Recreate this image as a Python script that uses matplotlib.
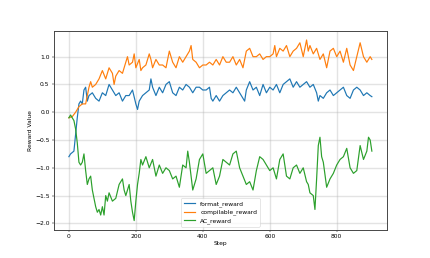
import matplotlib
matplotlib.use("Agg")
import matplotlib.pyplot as plt

# values (step, reward)
format_steps = [0, 5, 15, 20, 25, 30, 35, 40, 45, 50, 55, 60, 70, 80, 90, 100, 110, 120, 130, 140,
                150, 160, 170, 180, 190, 200, 205, 210, 220, 230, 240, 245, 250, 260, 270, 280, 290,
                300, 310, 320, 330, 340, 350, 360, 370, 380, 390, 400, 410, 420, 425, 430, 440, 450,
                460, 470, 480, 490, 500, 510, 520, 525, 530, 540, 550, 560, 570, 580, 590, 600, 610,
                620, 630, 640, 650, 660, 670, 680, 690, 700, 710, 720, 730, 740, 745, 750, 760, 770,
                780, 790, 800, 810, 820, 830, 840, 850, 860, 870, 880, 890, 900, 905]
format_vals = [-0.8, -0.75, -0.7, -0.4, -0.1, 0.15, 0.2, 0.15, 0.4, 0.45, 0.2, 0.3, 0.35, 0.25, 0.2,
               0.35, 0.3, 0.5, 0.4, 0.3, 0.35, 0.2, 0.3, 0.3, 0.4, 0.15, 0.05, 0.2, 0.3, 0.35, 0.4,
               0.6, 0.45, 0.3, 0.45, 0.35, 0.5, 0.55, 0.35, 0.3, 0.45, 0.4, 0.5, 0.45, 0.35, 0.45,
               0.45, 0.4, 0.4, 0.45, 0.25, 0.2, 0.3, 0.2, 0.3, 0.35, 0.4, 0.35, 0.45, 0.35, 0.25,
               0.2, 0.4, 0.55, 0.4, 0.45, 0.3, 0.5, 0.35, 0.45, 0.4, 0.5, 0.35, 0.5, 0.55, 0.6,
               0.45, 0.55, 0.45, 0.5, 0.55, 0.45, 0.5, 0.35, 0.2, 0.3, 0.25, 0.35, 0.4, 0.3, 0.35,
               0.4, 0.45, 0.3, 0.25, 0.4, 0.45, 0.4, 0.3, 0.35, 0.3, 0.28]

compile_steps = [0, 10, 20, 30, 40, 50, 55, 60, 65, 70, 80, 90, 100, 110, 120, 130, 135, 140, 150,
                 160, 170, 175, 180, 190, 195, 200, 210, 215, 220, 230, 240, 245, 250, 260, 270, 280,
                 290, 300, 310, 320, 330, 340, 350, 360, 365, 370, 380, 390, 400, 410, 420, 430, 440,
                 450, 460, 470, 480, 490, 500, 510, 520, 530, 540, 550, 560, 570, 580, 590, 600, 610,
                 615, 620, 630, 640, 650, 660, 670, 680, 690, 700, 710, 715, 720, 730, 740, 750, 760,
                 770, 780, 790, 800, 810, 820, 830, 840, 850, 860, 870, 880, 890, 900, 905]
compile_vals = [-0.1, -0.08, 0.0, 0.1, 0.15, 0.15, 0.3, 0.45, 0.55, 0.45, 0.5, 0.6, 0.75, 0.6, 0.8,
                0.7, 0.5, 0.65, 0.75, 0.7, 0.9, 1.0, 0.85, 0.9, 1.05, 0.8, 0.95, 0.75, 0.8, 0.85,
                1.05, 0.95, 0.8, 0.95, 0.85, 0.85, 0.8, 1.1, 0.9, 0.8, 1.0, 0.9, 1.0, 1.1, 1.2, 0.95,
                0.9, 0.8, 0.85, 0.85, 0.9, 0.85, 0.95, 0.85, 1.0, 0.9, 0.9, 1.0, 0.85, 0.95, 0.8,
                1.1, 1.15, 1.0, 1.0, 1.05, 0.95, 1.0, 1.0, 1.05, 1.2, 1.0, 1.15, 1.1, 1.2, 1.0, 1.1,
                1.15, 1.25, 1.0, 1.3, 1.1, 1.2, 1.05, 1.15, 0.95, 1.05, 0.8, 1.1, 1.15, 1.0, 1.1,
                0.9, 1.15, 0.85, 0.75, 1.0, 1.25, 1.0, 0.9, 1.0, 0.95]

ac_steps = [0, 5, 10, 15, 20, 25, 30, 35, 40, 45, 50, 55, 60, 65, 70, 75, 80, 85, 90, 95, 100, 105,
            110, 115, 120, 130, 140, 150, 160, 165, 170, 180, 185, 190, 195, 200, 205, 210, 215,
            220, 230, 240, 250, 260, 270, 280, 290, 300, 310, 320, 330, 340, 350, 355, 360, 365,
            370, 380, 390, 400, 410, 420, 430, 440, 450, 460, 470, 480, 490, 500, 510, 520, 530,
            540, 550, 560, 570, 580, 590, 600, 610, 620, 630, 640, 650, 660, 670, 680, 690, 700,
            710, 715, 720, 730, 735, 740, 745, 750, 755, 760, 770, 780, 790, 800, 810, 820, 830,
            840, 850, 860, 870, 880, 890, 895, 900, 905]
ac_vals = [-0.1, -0.05, -0.1, -0.15, -0.3, -0.55, -0.9, -0.95, -0.9, -0.75, -1.05, -1.3, -1.2,
           -1.15, -1.4, -1.55, -1.7, -1.8, -1.75, -1.85, -1.7, -1.85, -1.5, -1.6, -1.45, -1.6,
           -1.55, -1.3, -1.2, -1.4, -1.5, -1.3, -1.6, -1.8, -1.95, -1.6, -1.3, -1.1, -0.85, -0.95,
           -0.8, -1.0, -0.85, -1.15, -0.95, -1.1, -1.0, -1.05, -1.2, -1.15, -1.35, -0.95, -1.0,
           -0.7, -0.9, -1.15, -1.4, -1.2, -0.85, -0.75, -1.1, -1.05, -1.0, -1.3, -1.15, -0.85,
           -0.9, -0.95, -0.75, -0.7, -1.0, -1.15, -1.3, -1.25, -1.4, -1.05, -0.8, -0.85, -0.95,
           -1.05, -1.0, -1.2, -0.85, -0.75, -1.15, -1.2, -1.0, -0.95, -1.1, -1.0, -1.25, -1.3,
           -1.45, -1.5, -1.75, -1.2, -0.6, -0.45, -0.8, -0.9, -1.35, -1.2, -1.1, -0.95, -0.85,
           -0.8, -0.65, -1.0, -1.1, -1.05, -0.6, -0.85, -0.7, -0.45, -0.5, -0.7]

fig = plt.figure(figsize=(10, 6), dpi=43)
plt.plot(format_steps, format_vals, label="format_reward", linewidth=2.0)
plt.plot(compile_steps, compile_vals, label="compilable_reward", linewidth=2.0)
plt.plot(ac_steps, ac_vals, label="AC_reward", linewidth=2.0)

plt.xlabel("Step")
plt.ylabel("Reward Value")
plt.grid(True, linewidth=2.4, alpha=0.35)
plt.legend(loc="lower center")

ax = plt.gca()
for s in ax.spines.values():
    s.set_linewidth(1.6)
    s.set_color("#444444")

plt.savefig("out.png", dpi=43)
